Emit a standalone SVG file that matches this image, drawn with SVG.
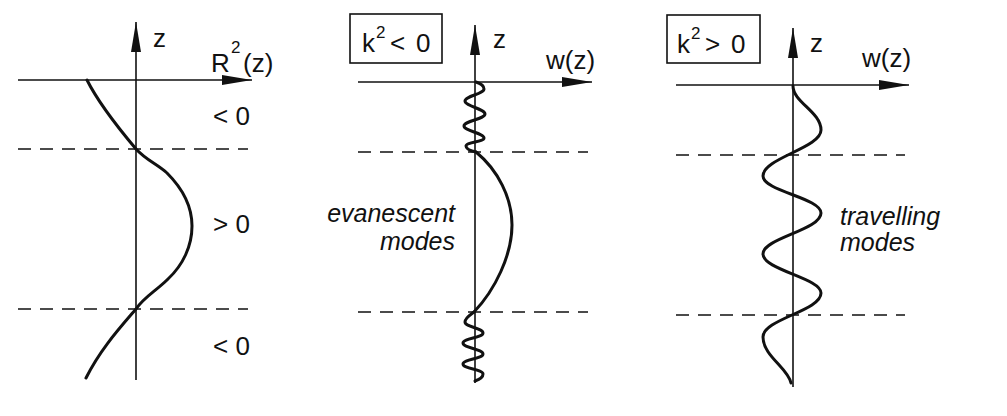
<svg xmlns="http://www.w3.org/2000/svg" width="1007" height="416" viewBox="0 0 1007 416">
<style>
text{font-family:"Liberation Sans",Arial,sans-serif;font-size:26px;fill:#111}
.it{font-style:italic;font-size:25px}
.sup{font-size:17px}
.axis{stroke:#111;stroke-width:1.6;fill:none}
.dash{stroke:#111;stroke-width:1.6;stroke-dasharray:13 9;fill:none}
.curve{stroke:#111;stroke-width:3;fill:none;stroke-linecap:round;stroke-linejoin:round}
.box{stroke:#111;stroke-width:1.6;fill:none}
</style>
<defs>
<marker id="arr" markerUnits="userSpaceOnUse" markerWidth="31" markerHeight="12" refX="30" refY="6" viewBox="0 0 31 12" orient="auto">
<path d="M0,1 L30,6 L0,11 Z" fill="#111"/>
</marker>
</defs>
<rect width="1007" height="416" fill="#fff"/>
<g id="panel1">
<line class="axis" x1="136" y1="380" x2="136" y2="22" marker-end="url(#arr)"/>
<line class="axis" x1="18" y1="80" x2="252" y2="80" marker-end="url(#arr)"/>
<line class="dash" x1="18" y1="149" x2="248" y2="149"/>
<line class="dash" x1="18" y1="309" x2="248" y2="309"/>
<path class="curve" d="M87,80 C98,102 120,130 136,149 C146,160 157,164 167,173 C184,190 192,208 192,226 C192,246 183,265 168,279 C156,291 144,297 136,309 C118,330 100,350 86,378"/>
<text x="153" y="47">z</text>
<text x="211" y="72">R<tspan class="sup" x="231" dy="-19">2</tspan><tspan x="243" dy="19">(z)</tspan></text>
<text x="213" y="125">&lt; 0</text>
<text x="213" y="233">&gt; 0</text>
<text x="213" y="355">&lt; 0</text>
</g>
<g id="panel2">
<rect class="box" x="350" y="14" width="92" height="49"/>
<text x="362" y="52">k<tspan class="sup" x="376" dy="-14">2</tspan><tspan x="390" dy="14">&lt;</tspan><tspan x="416">0</tspan></text>
<line class="axis" x1="475" y1="383" x2="475" y2="25" marker-end="url(#arr)"/>
<line class="axis" x1="358" y1="82" x2="592" y2="82" marker-end="url(#arr)"/>
<line class="dash" x1="358" y1="152" x2="588" y2="152"/>
<line class="dash" x1="358" y1="312" x2="588" y2="312"/>
<path class="curve" d="M476,82 C482,84 484,86 484,89 C484,94 465,96 465,101 C465,106 485,109 485,114 C485,119 464,121 464,126 C464,131 484,133 484,138 C484,142 466,142 466,146 C466,149 471,151 476,152"/>
<path class="curve" d="M476,152 C498,170 512,198 512,225 C512,255 495,290 474,312"/>
<path class="curve" d="M474,312 C470,315 465,318 465,322 C465,327 483,328 483,333 C483,338 463,338 463,343 C463,348 483,349 483,354 C483,359 463,359 463,364 C463,369 483,369 483,374 C483,378 478,380 475,381"/>
<text x="493" y="48">z</text>
<text x="546" y="69">w(z)</text>
<text class="it" x="455" y="222" text-anchor="end">evanescent</text>
<text class="it" x="455" y="250" text-anchor="end">modes</text>
</g>
<g id="panel3">
<rect class="box" x="667" y="15" width="93" height="48"/>
<text x="677" y="53">k<tspan class="sup" x="691" dy="-14">2</tspan><tspan x="705" dy="14">&gt;</tspan><tspan x="731">0</tspan></text>
<line class="axis" x1="793" y1="387" x2="793" y2="28" marker-end="url(#arr)"/>
<line class="axis" x1="676" y1="85" x2="909" y2="85" marker-end="url(#arr)"/>
<line class="dash" x1="676" y1="155" x2="905" y2="155"/>
<line class="dash" x1="676" y1="315" x2="905" y2="315"/>
<path class="curve" d="M793,86 C793,102 821,112 821,130 C821,148 763,158 763,176 C763,191 821,198 821,213 C821,230 763,238 763,254 C763,270 821,278 821,293 C821,311 763,319 763,337 C763,356 788,368 791,383"/>
<text x="810" y="52">z</text>
<text x="862" y="67">w(z)</text>
<text class="it" x="840" y="225">travelling</text>
<text class="it" x="840" y="251">modes</text>
</g>
</svg>
